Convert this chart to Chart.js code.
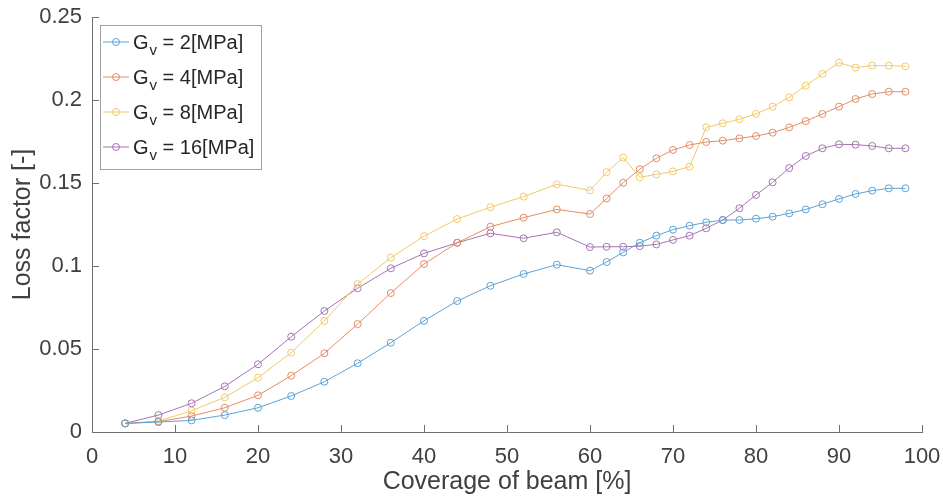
<!DOCTYPE html>
<html>
<head>
<meta charset="utf-8">
<script src="https://cdn.jsdelivr.net/npm/chart.js@4"></script>
<style>
html,body{margin:0;padding:0;background:#fff;}
#wrap{width:943px;height:503px;}
</style>
</head>
<body>
<div id="wrap"><canvas id="c" width="943" height="503"></canvas></div>
<script>
const coverage = [4,8,12,16,20,24,28,32,36,40,44,48,52,56,60,62,64,66,68,70,72,74,76,78,80,82,84,86,88,90,92,94,96,98];
const gv2  = [0.0052,0.0060,0.0070,0.0102,0.0146,0.0217,0.0303,0.0414,0.0538,0.0670,0.0789,0.0881,0.0952,0.1008,0.0972,0.1024,0.1082,0.1140,0.1183,0.1219,0.1243,0.1263,0.1277,0.1277,0.1285,0.1297,0.1317,0.1341,0.1372,0.1404,0.1434,0.1454,0.1468,0.1468];
const gv4  = [0.0052,0.0062,0.0096,0.0146,0.0221,0.0339,0.0474,0.0650,0.0837,0.1012,0.1140,0.1237,0.1291,0.1341,0.1313,0.1407,0.1502,0.1583,0.1649,0.1699,0.1729,0.1747,0.1755,0.1769,0.1783,0.1803,0.1835,0.1873,0.1916,0.1960,0.2006,0.2036,0.2050,0.2050];
const gv8  = [0.0052,0.0066,0.0128,0.0209,0.0327,0.0478,0.0669,0.0891,0.1050,0.1180,0.1283,0.1354,0.1418,0.1492,0.1456,0.1565,0.1653,0.1534,0.1552,0.1570,0.1598,0.1835,0.1860,0.1884,0.1916,0.1960,0.2016,0.2086,0.2157,0.2225,0.2195,0.2207,0.2207,0.2203];
const gv16 = [0.0052,0.0102,0.0173,0.0275,0.0408,0.0574,0.0729,0.0866,0.0986,0.1076,0.1140,0.1197,0.1167,0.1203,0.1114,0.1116,0.1116,0.1120,0.1130,0.1157,0.1183,0.1227,0.1277,0.1348,0.1428,0.1504,0.1590,0.1663,0.1709,0.1733,0.1731,0.1723,0.1709,0.1709];
const seriesValues = [gv2, gv4, gv8, gv16];
const legendMain = ['G', 'G', 'G', 'G'];
const legendSub = ['v', 'v', 'v', 'v'];
const legendRest = [' = 2[MPa]', ' = 4[MPa]', ' = 8[MPa]', ' = 16[MPa]'];
const seriesLabels = ['Gv = 2[MPa]', 'Gv = 4[MPa]', 'Gv = 8[MPa]', 'Gv = 16[MPa]'];
const xTitle = 'Coverage of beam [%]';
const yTitle = 'Loss factor [-]';

const colors = ['rgb(92,163,212)', 'rgb(229,140,102)', 'rgb(242,201,104)', 'rgb(168,115,180)'];
const FONT = "'Liberation Sans', Arial, sans-serif";
const TXT = '#404040';

const datasets = seriesValues.map((vals, i) => ({
  label: seriesLabels[i],
  data: coverage.map((x, j) => ({x: x, y: vals[j]})),
  borderColor: colors[i],
  backgroundColor: 'rgba(0,0,0,0)',
  pointBorderColor: colors[i],
  pointBackgroundColor: 'rgba(0,0,0,0)',
  pointRadius: 3.5,
  pointBorderWidth: 1,
  borderWidth: 1,
  tension: 0
}));

const innerTicks = {
  id: 'innerTicks',
  afterDraw(chart) {
    const ctx = chart.ctx;
    const xs = chart.scales.x, ys = chart.scales.y;
    ctx.save();
    ctx.strokeStyle = '#707070';
    ctx.lineWidth = 1;
    xs.ticks.forEach(t => {
      const px = Math.round(xs.getPixelForValue(t.value)) + 0.5;
      ctx.beginPath();
      ctx.moveTo(px, ys.bottom);
      ctx.lineTo(px, ys.bottom - 7);
      ctx.stroke();
    });
    ys.ticks.forEach(t => {
      const py = Math.round(ys.getPixelForValue(t.value)) + 0.5;
      ctx.beginPath();
      ctx.moveTo(xs.left, py);
      ctx.lineTo(xs.left + 7, py);
      ctx.stroke();
    });
    ctx.restore();
  }
};

const customLegend = {
  id: 'customLegend',
  afterDraw(chart) {
    const ctx = chart.ctx;
    const bx = 100, by = 25, bw = 161, bh = 144;
    ctx.save();
    ctx.fillStyle = '#fff';
    ctx.fillRect(bx, by, bw, bh);
    ctx.strokeStyle = '#a0a0a0';
    ctx.lineWidth = 1;
    ctx.strokeRect(bx + 0.5, by + 0.5, bw, bh);
    chart.data.datasets.forEach((ds, i) => {
      const cy = 42 + 35 * i;
      ctx.strokeStyle = ds.borderColor;
      ctx.lineWidth = 1;
      ctx.beginPath();
      ctx.moveTo(103, cy);
      ctx.lineTo(129, cy);
      ctx.stroke();
      ctx.beginPath();
      ctx.arc(116, cy, 3.5, 0, Math.PI * 2);
      ctx.stroke();
      ctx.fillStyle = '#262626';
      ctx.textBaseline = 'alphabetic';
      ctx.textAlign = 'left';
      const base = cy + 7;
      ctx.font = '20px ' + FONT;
      let x = 133;
      ctx.fillText(legendMain[i], x, base);
      x += ctx.measureText(legendMain[i]).width;
      ctx.font = '15px ' + FONT;
      ctx.fillText(legendSub[i], x + 1, base + 6);
      x += ctx.measureText(legendSub[i]).width + 1;
      ctx.font = '20px ' + FONT;
      ctx.fillText(legendRest[i], x, base);
    });
    ctx.restore();
  }
};

new Chart(document.getElementById('c'), {
  type: 'line',
  data: { datasets },
  options: {
    responsive: false,
    animation: false,
    layout: { padding: { top: 17, right: 21, left: 0, bottom: 0 } },
    plugins: { legend: { display: false }, tooltip: { enabled: false } },
    scales: {
      x: {
        type: 'linear', min: 0, max: 100,
        ticks: { stepSize: 10, color: TXT, font: { family: FONT, size: 22 }, padding: 12, maxRotation: 0 },
        grid: { drawOnChartArea: false, drawTicks: false },
        border: { display: true, color: '#707070', width: 1 },
        title: { display: true, text: xTitle, color: TXT, font: { family: FONT, size: 25 }, padding: { top: 0, bottom: 6 } },
        afterFit(s) { s.height = 71; s.paddingLeft = 0; s.paddingRight = 0; }
      },
      y: {
        type: 'linear', min: 0, max: 0.25,
        ticks: { stepSize: 0.05, color: TXT, font: { family: FONT, size: 22 }, padding: 10,
          callback: (v) => String(parseFloat(Number(v).toFixed(3))) },
        grid: { drawOnChartArea: false, drawTicks: false },
        border: { display: true, color: '#707070', width: 1 },
        title: { display: true, text: yTitle, color: TXT, font: { family: FONT, size: 25 }, padding: { top: 8, bottom: 0 } },
        afterFit(s) { s.width = 92; s.paddingTop = 0; s.paddingBottom = 0; }
      }
    }
  },
  plugins: [innerTicks, customLegend]
});
</script>
</body>
</html>
